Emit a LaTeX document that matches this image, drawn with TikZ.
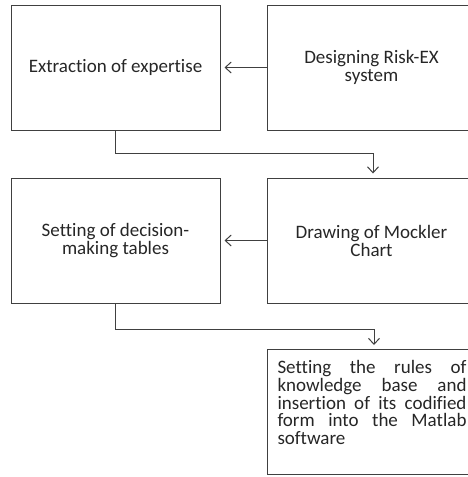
\documentclass[tikz,border=0pt]{standalone}
\usepackage{fontspec}
\setmainfont[Ligatures=NoCommon]{Carlito}
\usetikzlibrary{arrows.meta}
\definecolor{framegray}{HTML}{404040}
\definecolor{inkgray}{HTML}{262626}
\tikzset{
  stage/.style={draw=framegray, line width=1pt, minimum width=209pt, minimum height=125pt,
    inner sep=0pt, align=center, text=inkgray, font=\fontsize{19}{18}\selectfont},
  flow/.style={draw=framegray, line width=1pt,
    -{Straight Barb[length=6pt,width=11pt,line width=1pt]}, shorten >=4pt}
}
\begin{document}
\begin{tikzpicture}[x=1pt,y=-1pt]
\useasboundingbox (0,0) rectangle (468,477);
\clip (0,0) rectangle (468,477);
% process stages
\node[stage] (extract) at (115.5,67.5) {Extraction of expertise};
\node[stage] (design) at (371.5,67.5) {Designing Risk-EX\\system};
\node[stage] (tables) at (115.5,240.5) {Setting of decision-\\making tables};
\node[stage] (mockler) at (371.5,240.5) {Drawing of Mockler\\Chart};
\node[stage, anchor=north west, inner xsep=9pt, inner ysep=11pt, align=left] (rules) at (267,349)
  {\parbox[t][103pt][t]{189pt}{\setlength{\parindent}{0pt}\fontsize{19}{17.7}\selectfont
   Setting the rules of\linebreak knowledge base and\linebreak insertion of its codified\linebreak
   form into the Matlab\linebreak software}};
% turning points of the elbow connectors
\coordinate (bendA) at (115.5,153);
\coordinate (bendB) at (373,153);
\coordinate (bendC) at (115.5,329);
\coordinate (bendD) at (374,329);
% connectors
\draw[flow] (design.west) -- (extract.east);
\draw[flow] (mockler.west) -- (tables.east);
\draw[flow] (extract.south) -- (bendA) -- (bendB) -- (bendB |- mockler.north);
\draw[flow] (tables.south) -- (bendC) -- (bendD) -- (bendD |- rules.north);
\end{tikzpicture}
\end{document}
